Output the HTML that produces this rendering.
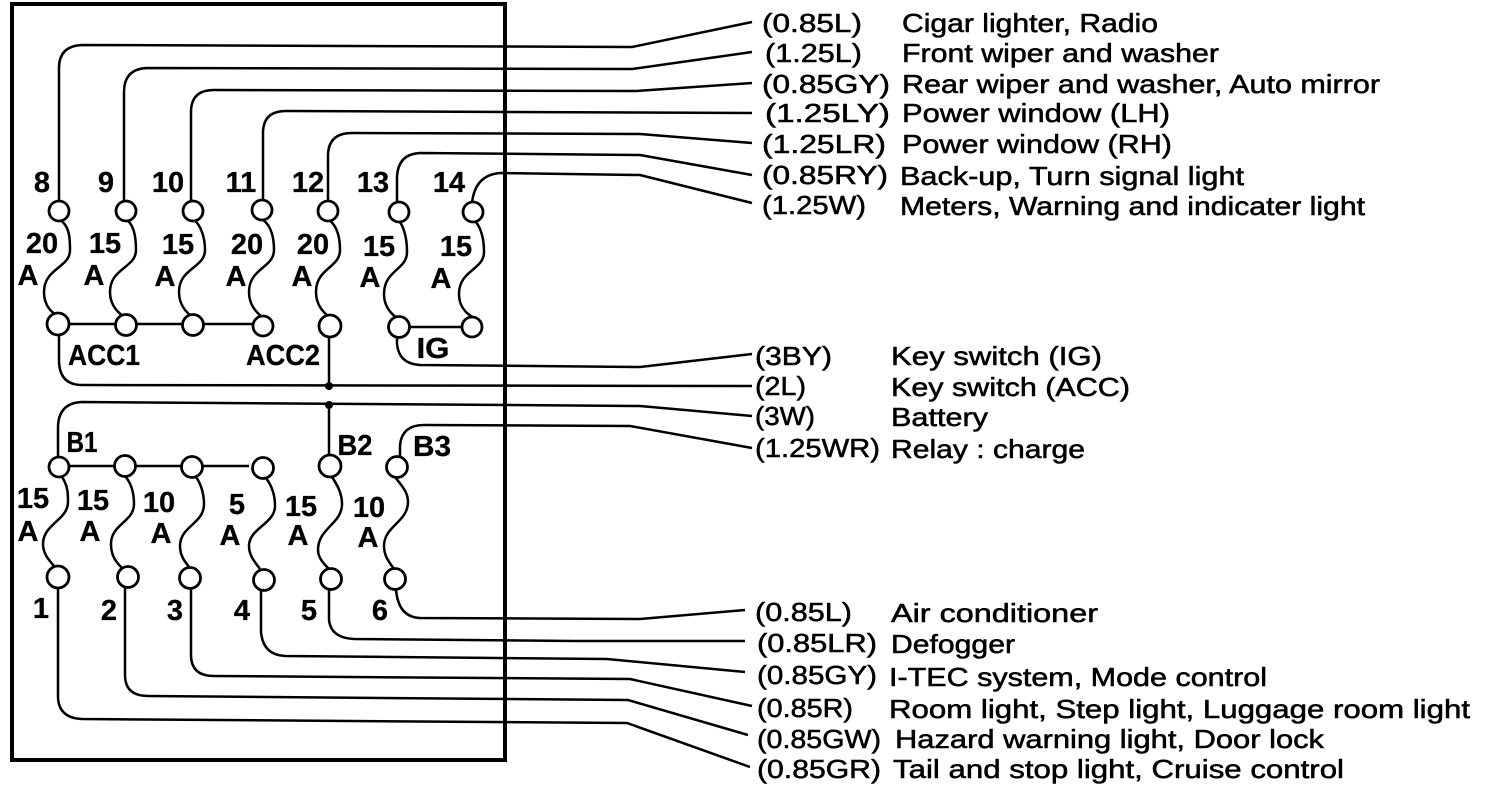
<!DOCTYPE html>
<html><head><meta charset="utf-8"><style>
html,body{margin:0;padding:0;background:#fff}
svg{display:block}
text{font-family:"Liberation Sans",sans-serif;fill:#000}
.r{font-size:26px;stroke:#000;stroke-width:.55px}
.f{font-size:29px;font-weight:bold;text-anchor:middle;stroke:#000;stroke-width:.3px}
.w{fill:none;stroke:#000;stroke-width:2.5}
.c{fill:#fff;stroke:#000;stroke-width:2.8}
</style></head><body>
<svg width="1504" height="786" viewBox="0 0 1504 786" xmlns="http://www.w3.org/2000/svg">
<rect x="12" y="4" width="493" height="756" fill="none" stroke="#000" stroke-width="4"/>
<g class="w">
<path d="M59 202V68Q59 46 82 45L632 47L752 22"/>
<path d="M124 201V92Q124 69 147 68L632 69L752 52"/>
<path d="M191 202V112Q191 90 214 90L636 91L752 83"/>
<path d="M263 201V133Q263 111 286 111L752 113"/>
<path d="M328 202V156Q328 133 352 133L640 134L752 143"/>
<path d="M397 203V177Q398 154 420 153L640 155L752 175"/>
<path d="M472 203Q475 175 500 173L640 175L752 203"/>
<path d="M59 335V360Q59 385 82 385L752 386"/>
<path d="M329 336V386"/>
<path d="M397 337V344Q399 364 420 365L640 367L752 354"/>
<path d="M58 457V428Q58 403 82 402L640 406L752 416"/>
<path d="M329 405V456"/>
<path d="M400 456V445Q402 425 424 425L630 426L752 448"/>
<path d="M59 324H263"/><path d="M399 327H472"/>
<path d="M59 466H249"/>
<path d="M58 587V696Q58 718 82 719L627 723L750 767"/>
<path d="M125 587V675Q125 696 148 696L628 700L748 735"/>
<path d="M191 588V655Q191 676 214 676L630 679L752 706"/>
<path d="M261 590V632Q263 655 285 656L607 659L745 672"/>
<path d="M329 590V620Q331 638 354 639L575 641L745 641"/>
<path d="M396 589Q398 617 420 618L640 619L745 610"/>
<!-- fuses top -->
<path d="M60 220C70 226 70 240 70 250C70 268 44 268 44 292C44 304 50 311 56 315"/>
<path d="M127 220C135 226 136 240 136 250C136 268 110 268 110 292C110 304 116 311 123 316"/>
<path d="M194 220C202 226 205 240 205 250C205 268 179 268 179 292C179 304 185 311 191 316"/>
<path d="M263 220C272 226 274 240 274 250C274 268 249 268 249 292C249 304 255 311 262 317"/>
<path d="M329 220C338 226 340 240 340 250C340 268 316 268 316 292C316 304 322 311 329 317"/>
<path d="M400 222C405 230 407 240 407 252C407 270 384 270 384 294C384 306 390 313 397 318"/>
<path d="M476 222C482 230 484 240 484 252C484 270 459 270 459 294C459 306 465 313 474 318"/>
<!-- fuses bottom -->
<path d="M62 477C68 486 68 494 68 502C68 520 43 524 43 544C43 554 49 560 54 566"/>
<path d="M125 476C132 484 134 494 134 504C134 522 111 524 111 544C111 556 116 562 122 568"/>
<path d="M196 477C201 484 204 494 204 504C204 524 180 526 180 546C180 556 185 562 190 568"/>
<path d="M266 478C272 486 275 496 275 506C275 524 249 528 249 546C249 556 255 562 260 569"/>
<path d="M332 477C338 486 342 494 342 504C342 524 318 528 318 550C318 558 324 564 329 569"/>
<path d="M395 477C402 486 408 492 408 502C408 522 384 526 384 546C384 556 389 562 394 569"/>
</g>
<g class="c">
<circle cx="59" cy="211" r="10"/><circle cx="126" cy="211" r="10"/><circle cx="193" cy="211" r="10"/><circle cx="262" cy="210" r="10"/><circle cx="328" cy="211" r="10"/><circle cx="399" cy="212" r="10"/><circle cx="473" cy="212" r="10"/>
<circle cx="58" cy="324" r="11"/><circle cx="126" cy="325" r="10.5"/><circle cx="193" cy="325" r="10.5"/><circle cx="263" cy="326" r="10"/><circle cx="330" cy="326" r="11"/><circle cx="399" cy="327" r="10.5"/><circle cx="472" cy="327" r="10"/>
<circle cx="59" cy="467" r="10"/><circle cx="125" cy="466" r="10.5"/><circle cx="192" cy="467" r="10.5"/><circle cx="263" cy="468" r="10.5"/><circle cx="330" cy="466" r="11"/><circle cx="397" cy="467" r="10.5"/>
<circle cx="58" cy="577" r="11"/><circle cx="128" cy="577" r="10.5"/><circle cx="190" cy="578" r="10.5"/><circle cx="264" cy="580" r="10.5"/><circle cx="331" cy="579" r="10.5"/><circle cx="395" cy="579" r="10.5"/>
</g>
<circle cx="329" cy="386" r="4"/><circle cx="329" cy="405" r="4"/>
<g class="f">
<text x="42" y="192">8</text><text x="106" y="192">9</text><text x="168" y="192">10</text><text x="241" y="192">11</text><text x="308" y="192">12</text><text x="373" y="192">13</text><text x="449" y="192">14</text>
<text x="42" y="253">20</text><text x="105" y="253">15</text><text x="178" y="254">15</text><text x="247" y="254">20</text><text x="313" y="254">20</text><text x="379" y="256">15</text><text x="456" y="256">15</text>
<text x="28" y="285">A</text><text x="94" y="285">A</text><text x="165" y="286">A</text><text x="236" y="286">A</text><text x="302" y="286">A</text><text x="370" y="287">A</text><text x="441" y="288">A</text>
<text x="104" y="365" textLength="72" lengthAdjust="spacingAndGlyphs">ACC1</text>
<text x="283" y="365" textLength="74" lengthAdjust="spacingAndGlyphs">ACC2</text>
<text x="433" y="358" textLength="33" lengthAdjust="spacingAndGlyphs">IG</text>
<text x="82" y="452" textLength="31" lengthAdjust="spacingAndGlyphs">B1</text>
<text x="355" y="455" textLength="35" lengthAdjust="spacingAndGlyphs">B2</text>
<text x="432" y="456" textLength="38" lengthAdjust="spacingAndGlyphs">B3</text>
<text x="33" y="508">15</text><text x="93" y="510">15</text><text x="159" y="512">10</text><text x="237" y="514">5</text><text x="301" y="516">15</text><text x="369" y="517">10</text>
<text x="28" y="541">A</text><text x="90" y="541">A</text><text x="161" y="543">A</text><text x="230" y="545">A</text><text x="298" y="545">A</text><text x="368" y="547">A</text>
<text x="41" y="618">1</text><text x="109" y="620">2</text><text x="175" y="620">3</text><text x="242" y="620">4</text><text x="309" y="620">5</text><text x="380" y="620">6</text>
</g>
<g class="r">
<text x="762" y="32" textLength="100" lengthAdjust="spacingAndGlyphs">(0.85L)</text><text x="902" y="32" textLength="256" lengthAdjust="spacingAndGlyphs">Cigar lighter, Radio</text>
<text x="765" y="62" textLength="97" lengthAdjust="spacingAndGlyphs">(1.25L)</text><text x="902" y="62" textLength="317" lengthAdjust="spacingAndGlyphs">Front wiper and washer</text>
<text x="762" y="93" textLength="128" lengthAdjust="spacingAndGlyphs">(0.85GY)</text><text x="902" y="93" textLength="478" lengthAdjust="spacingAndGlyphs">Rear wiper and washer, Auto mirror</text>
<text x="765" y="122" textLength="125" lengthAdjust="spacingAndGlyphs">(1.25LY)</text><text x="902" y="122" textLength="268" lengthAdjust="spacingAndGlyphs">Power window (LH)</text>
<text x="762" y="153" textLength="124" lengthAdjust="spacingAndGlyphs">(1.25LR)</text><text x="902" y="153" textLength="270" lengthAdjust="spacingAndGlyphs">Power window (RH)</text>
<text x="762" y="184" textLength="126" lengthAdjust="spacingAndGlyphs">(0.85RY)</text><text x="900" y="185" textLength="344" lengthAdjust="spacingAndGlyphs">Back-up, Turn signal light</text>
<text x="762" y="214" textLength="104" lengthAdjust="spacingAndGlyphs">(1.25W)</text><text x="900" y="215" textLength="465" lengthAdjust="spacingAndGlyphs">Meters, Warning and indicater light</text>
<text x="755" y="365" textLength="77" lengthAdjust="spacingAndGlyphs">(3BY)</text><text x="891" y="365" textLength="211" lengthAdjust="spacingAndGlyphs">Key switch (IG)</text>
<text x="755" y="395" textLength="51" lengthAdjust="spacingAndGlyphs">(2L)</text><text x="891" y="396" textLength="239" lengthAdjust="spacingAndGlyphs">Key switch (ACC)</text>
<text x="755" y="425" textLength="60" lengthAdjust="spacingAndGlyphs">(3W)</text><text x="891" y="426" textLength="97" lengthAdjust="spacingAndGlyphs">Battery</text>
<text x="755" y="457" textLength="125" lengthAdjust="spacingAndGlyphs">(1.25WR)</text><text x="891" y="458" textLength="194" lengthAdjust="spacingAndGlyphs">Relay : charge</text>
<text x="755" y="621" textLength="97" lengthAdjust="spacingAndGlyphs">(0.85L)</text><text x="891" y="622" textLength="207" lengthAdjust="spacingAndGlyphs">Air conditioner</text>
<text x="757" y="652" textLength="120" lengthAdjust="spacingAndGlyphs">(0.85LR)</text><text x="891" y="653" textLength="124" lengthAdjust="spacingAndGlyphs">Defogger</text>
<text x="757" y="684" textLength="120" lengthAdjust="spacingAndGlyphs">(0.85GY)</text><text x="889" y="686" textLength="378" lengthAdjust="spacingAndGlyphs">I-TEC system, Mode control</text>
<text x="757" y="717" textLength="96" lengthAdjust="spacingAndGlyphs">(0.85R)</text><text x="889" y="718" textLength="581" lengthAdjust="spacingAndGlyphs">Room light, Step light, Luggage room light</text>
<text x="757" y="748" textLength="124" lengthAdjust="spacingAndGlyphs">(0.85GW)</text><text x="895" y="748" textLength="429" lengthAdjust="spacingAndGlyphs">Hazard warning light, Door lock</text>
<text x="757" y="778" textLength="124" lengthAdjust="spacingAndGlyphs">(0.85GR)</text><text x="893" y="778" textLength="451" lengthAdjust="spacingAndGlyphs">Tail and stop light, Cruise control</text>
</g>
</svg>
</body></html>
